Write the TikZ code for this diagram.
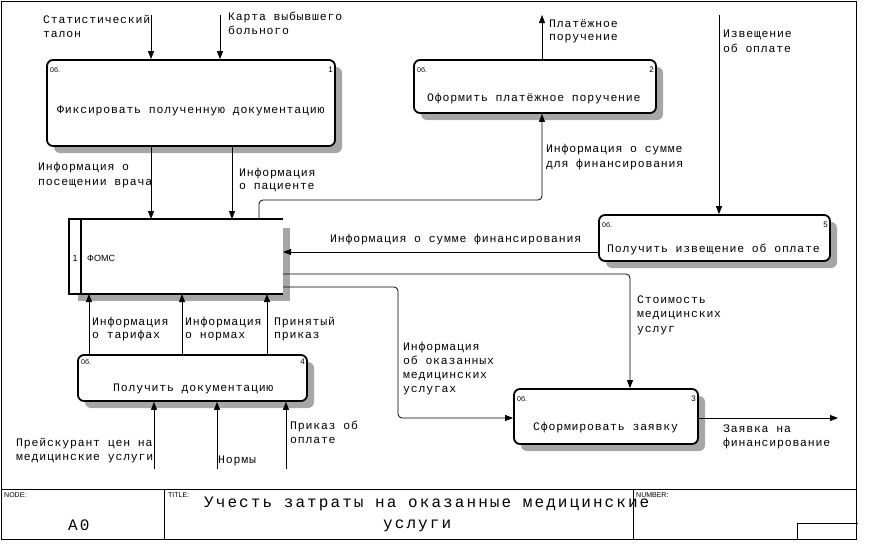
\documentclass[tikz,border=0pt]{standalone}
\usepackage{fontspec}
\setmainfont{Liberation Serif}
\newfontfamily\lmono[LetterSpace=7]{Liberation Mono}
\newfontfamily\tmono[LetterSpace=13]{Liberation Mono}
\newfontfamily\lsans{Liberation Sans}
\usetikzlibrary{arrows.meta,shadows}
\begin{document}
\begin{tikzpicture}[x=1pt,y=-1pt,
  lbl/.style={font=\lmono\fontsize{11.5}{13}\selectfont, anchor=base west, inner sep=0},
  ttl/.style={font=\tmono\fontsize{16}{18}\selectfont, anchor=base west, inner sep=0},
  small/.style={font=\lsans\fontsize{7}{8}\selectfont, anchor=base west, inner sep=0},
  smallr/.style={font=\lsans\fontsize{8}{9}\selectfont, anchor=base east, inner sep=0},
  proc/.style={draw, line width=1.8pt, rounded corners=6pt, fill=white, inner sep=0,
    drop shadow={shadow xshift=7pt, shadow yshift=-7pt, fill=black!35, opacity=1}},
  arr/.style={line width=0.8pt, -{Triangle[length=8pt,width=6pt]}, rounded corners=4pt},
  ln/.style={line width=0.8pt, rounded corners=4pt},
  frame/.style={line width=1pt}
]
\useasboundingbox (0,0) rectangle (870,557);

% frame
\draw[frame] (1,1) rectangle (856,539);
\draw[frame] (1,489) -- (856,489);
\draw[frame] (164,489) -- (164,539);
\draw[frame] (633,489) -- (633,539);
\draw[frame] (858,523) -- (797,523) -- (797,539);
\node[small] (nodelbl) at (4,497) {NODE:};
\node[small] (titlelbl) at (168,497) {TITLE:};
\node[small] (numlbl) at (636,497) {NUMBER:};
\node[ttl] (a0) at (68,530) {A0};
\node[ttl] (title1) at (204,507) {Учесть затраты на оказанные медицинские};
\node[ttl] (title2) at (383,528) {услуги};

% FOMS external box
\fill[black!35] (283,228) rectangle (290,301);
\fill[black!35] (78,294) rectangle (290,301);
\node[minimum width=214pt, minimum height=75pt, inner sep=0, outer sep=0] (foms) at (176,256.5) {};
\draw[line width=1.8pt] (foms.north east) -- (foms.north west) -- (foms.south west) -- (foms.south east);
\draw[line width=1.2pt] (81,219) -- (81,294);
\node[font=\lsans\fontsize{9}{10}\selectfont, anchor=base west, inner sep=0] (fomsnum) at (72.5,261) {1};
\node[font=\lsans\fontsize{9}{10}\selectfont, anchor=base west, inner sep=0] (fomstxt) at (87,261) {ФОМС};

% process boxes
\node[proc, minimum width=288pt, minimum height=86pt] (b1) at (191,103) {};
\node[proc, minimum width=242pt, minimum height=53pt] (b2) at (535,86.5) {};
\node[proc, minimum width=231pt, minimum height=46pt] (b5) at (714.5,238) {};
\node[proc, minimum width=229pt, minimum height=46pt] (b4) at (192.5,378) {};
\node[proc, minimum width=184pt, minimum height=55pt] (b3) at (606,416.5) {};

\node[lbl] (b1t) at (57,113) {Фиксировать полученную документацию};
\node[small] (b1a) at (50,72) {0б.};
\node[smallr] (b1n) at (333,72) {1};
\node[lbl] (b2t) at (427,101) {Оформить платёжное поручение};
\node[small] (b2a) at (417,72) {0б.};
\node[smallr] (b2n) at (654,72) {2};
\node[lbl] (b5t) at (607,252) {Получить извещение об оплате};
\node[small] (b5a) at (602,227) {0б.};
\node[smallr] (b5n) at (828,227) {5};
\node[lbl] (b4t) at (113,391) {Получить документацию};
\node[small] (b4a) at (81,364) {0б.};
\node[smallr] (b4n) at (305,364) {4};
\node[lbl] (b3t) at (533,430) {Сформировать заявку};
\node[small] (b3a) at (517,401) {0б.};
\node[smallr] (b3n) at (696,401) {3};

% coordinates
\coordinate (in1) at (151,15);
\coordinate (in2) at (220,15);
\coordinate (c232) at (232,0);
\coordinate (k1) at (259,200);
\coordinate (c542) at (542,0);
\coordinate (out2) at (542,15);
\coordinate (in5) at (719,15);
\coordinate (y252) at (0,252);
\coordinate (y274) at (0,274);
\coordinate (c630) at (630,0);
\coordinate (y287) at (0,287);
\coordinate (k2) at (398,287);
\coordinate (k3) at (398,418);
\coordinate (out3) at (838,418);
\coordinate (c89) at (89,0);
\coordinate (c182) at (182,0);
\coordinate (c267) at (267,0);
\coordinate (in41) at (154,469);
\coordinate (in42) at (217,469);
\coordinate (in43) at (286,469);

% connectors
\draw[arr] (in1) -- (in1 |- b1.north);
\draw[arr] (in2) -- (in2 |- b1.north);
\draw[arr] (in1 |- b1.south) -- (in1 |- foms.north);
\draw[arr] (c232 |- b1.south) -- (c232 |- foms.north);
\draw[arr] (k1 |- foms.north) -- (k1) -| (c542 |- b2.south);
\draw[arr] (c542 |- b2.north) -- (out2);
\draw[arr] (in5) -- (in5 |- b5.north);
\draw[arr] (b5.west |- y252) -- (foms.east |- y252);
\draw[arr] (foms.east |- y274) -| (c630 |- b3.north);
\draw[arr] (foms.east |- y287) -- (k2) -- (k3) -- (b3.west |- k3);
\draw[arr] (b3.east |- k3) -- (out3);
\draw[arr] (c89 |- b4.north) -- (c89 |- foms.south);
\draw[arr] (c182 |- b4.north) -- (c182 |- foms.south);
\draw[arr] (c267 |- b4.north) -- (c267 |- foms.south);
\draw[arr] (in41) -- (in41 |- b4.south);
\draw[arr] (in42) -- (in42 |- b4.south);
\draw[arr] (in43) -- (in43 |- b4.south);

% connector labels
\node[lbl] (l1a) at (43,23) {Статистический};
\node[lbl] (l1b) at (43,37) {талон};
\node[lbl] (l2a) at (228,20) {Карта выбывшего};
\node[lbl] (l2b) at (228,34) {больного};
\node[lbl] (l3a) at (38,170) {Информация о};
\node[lbl] (l3b) at (38,185) {посещении врача};
\node[lbl] (l4a) at (239,176) {Информация};
\node[lbl] (l4b) at (239,189) {о пациенте};
\node[lbl] (l5a) at (549,27) {Платёжное};
\node[lbl] (l5b) at (549,40) {поручение};
\node[lbl] (l6a) at (723,37) {Извещение};
\node[lbl] (l6b) at (723,52) {об оплате};
\node[lbl] (l7a) at (546,152) {Информация о сумме};
\node[lbl] (l7b) at (546,167) {для финансирования};
\node[lbl] (l8) at (330,242) {Информация о сумме финансирования};
\node[lbl] (l9a) at (637,303) {Стоимость};
\node[lbl] (l9b) at (637,317) {медицинских};
\node[lbl] (l9c) at (637,332) {услуг};
\node[lbl] (l10a) at (403,350) {Информация};
\node[lbl] (l10b) at (403,364) {об оказанных};
\node[lbl] (l10c) at (403,378) {медицинских};
\node[lbl] (l10d) at (403,392) {услугах};
\node[lbl] (l11a) at (723,432) {Заявка на};
\node[lbl] (l11b) at (723,446) {финансирование};
\node[lbl] (l12a) at (92,325) {Информация};
\node[lbl] (l12b) at (92,338) {о тарифах};
\node[lbl] (l13a) at (185,325) {Информация};
\node[lbl] (l13b) at (185,338) {о нормах};
\node[lbl] (l14a) at (274,325) {Принятый};
\node[lbl] (l14b) at (274,338) {приказ};
\node[lbl] (l15a) at (16,446) {Прейскурант цен на};
\node[lbl] (l15b) at (16,460) {медицинские услуги};
\node[lbl] (l16) at (218,463) {Нормы};
\node[lbl] (l17a) at (290,429) {Приказ об};
\node[lbl] (l17b) at (290,443) {оплате};
\end{tikzpicture}
\end{document}
